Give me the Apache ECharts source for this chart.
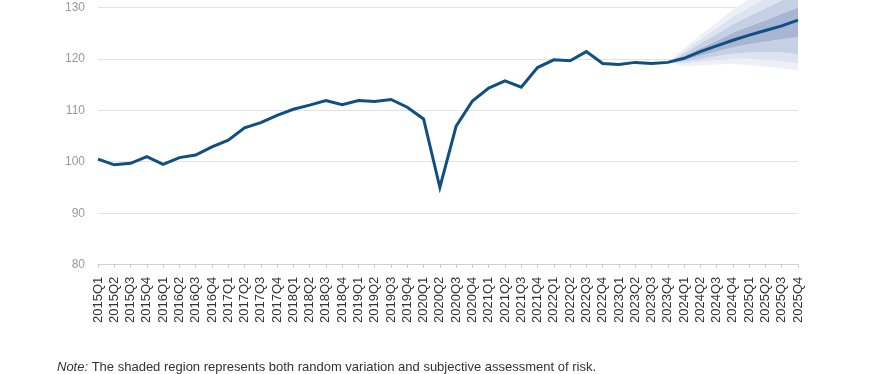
<!DOCTYPE html>
<html>
<head>
<meta charset="utf-8">
<script src="https://cdn.jsdelivr.net/npm/echarts@6/dist/echarts.min.js"></script>
<style>
html,body{margin:0;padding:0;background:#fff;}
#chart{width:872px;height:374px;}
</style>
</head>
<body>
<div id="chart"></div>
<script>
var categories = ["2015Q1","2015Q2","2015Q3","2015Q4","2016Q1","2016Q2","2016Q3","2016Q4",
"2017Q1","2017Q2","2017Q3","2017Q4","2018Q1","2018Q2","2018Q3","2018Q4",
"2019Q1","2019Q2","2019Q3","2019Q4","2020Q1","2020Q2","2020Q3","2020Q4",
"2021Q1","2021Q2","2021Q3","2021Q4","2022Q1","2022Q2","2022Q3","2022Q4",
"2023Q1","2023Q2","2023Q3","2023Q4","2024Q1","2024Q2","2024Q3","2024Q4",
"2025Q1","2025Q2","2025Q3","2025Q4"];

var centralPath = [100.5,99.4,99.7,101.0,99.5,100.8,101.3,102.9,
104.2,106.6,107.6,109.0,110.2,111.0,111.9,111.1,
111.9,111.7,112.1,110.6,108.3,95.0,106.9,111.8,
114.3,115.7,114.5,118.3,119.8,119.6,121.4,119.1,
118.9,119.3,119.1,119.3,120.1,121.4,122.5,123.6,
124.6,125.5,126.4,127.5];

// fan band edges from 2023Q4 to 2025Q4
var fanStart = 35;
var darkLow   = [119.3,119.7,120.6,121.4,122.2,122.8,123.3,123.8,124.2];
var darkHigh  = [119.3,120.5,122.1,123.5,125.1,126.3,127.5,128.8,130.0];
var midLow    = [119.3,119.4,119.9,120.5,121.0,121.2,121.3,121.2,120.9];
var midHigh   = [119.3,121.0,123.0,124.8,126.7,128.3,129.8,131.3,132.8];
var lightLow  = [119.3,119.1,119.4,119.7,120.0,120.0,119.8,119.5,119.1];
var lightHigh = [119.3,121.5,123.8,126.0,128.2,130.0,131.8,133.5,135.0];
var paleLow   = [119.3,118.6,118.7,118.9,119.0,118.8,118.5,118.1,117.8];
var paleHigh  = [119.3,122.0,124.6,127.0,129.5,131.7,133.7,135.5,137.0];

var yTicks = {min:80, max:130, interval:10};
var noteText = "The shaded region represents both random variation and subjective assessment of risk.";

function band(a, b) {
  var out = [];
  for (var i = 0; i < categories.length; i++) {
    var k = i - fanStart;
    if (k < 0) { out.push(null); continue; }
    out.push(b ? +(b[k] - a[k]).toFixed(3) : a[k]);
  }
  return out;
}

var colors = {dark:'#a8b6d3', mid:'#c6d0e4', light:'#dde3ef', pale:'#edf0f6'};

function fanSeries(name, data, color) {
  return {
    name: name, type: 'line', stack: 'fan', data: data, symbol: 'none',
    clip: false, silent: true, z: 1,
    lineStyle: {width: 0, opacity: 0},
    areaStyle: color ? {color: color, opacity: 1} : {opacity: 0}
  };
}

var series = [
  fanSeries('base', band(paleLow), null),
  fanSeries('pl', band(paleLow, lightLow), colors.pale),
  fanSeries('ll', band(lightLow, midLow), colors.light),
  fanSeries('ml', band(midLow, darkLow), colors.mid),
  fanSeries('dk', band(darkLow, darkHigh), colors.dark),
  fanSeries('mh', band(darkHigh, midHigh), colors.mid),
  fanSeries('lh', band(midHigh, lightHigh), colors.light),
  fanSeries('ph', band(lightHigh, paleHigh), colors.pale),
  {
    name: 'central', type: 'line', data: centralPath, symbol: 'none', z: 5,
    clip: false,
    lineStyle: {color: '#0f4f82', width: 3, join: 'miter'}
  }
];

var chart = echarts.init(document.getElementById('chart'), null, {renderer: 'canvas'});
chart.setOption({
  animation: false,
  backgroundColor: '#ffffff',
  textStyle: {fontFamily: '"Liberation Sans", Arial, Helvetica, sans-serif'},
  grid: {left: 98, right: 74, top: 7.3, bottom: 109.3, containLabel: false},
  xAxis: {
    type: 'category', data: categories, boundaryGap: false,
    axisLine: {show: true, lineStyle: {color: '#d0d0d0', width: 1}},
    axisTick: {show: true, interval: 0, length: 3, lineStyle: {color: '#c8c8c8'}},
    axisLabel: {interval: 0, rotate: 90, margin: 12, fontSize: 13, color: '#333333',
      fontFamily: '"Liberation Sans", Arial, sans-serif'},
    splitLine: {show: false}
  },
  yAxis: {
    type: 'value', min: yTicks.min, max: yTicks.max, interval: yTicks.interval,
    axisLine: {show: false}, axisTick: {show: false},
    axisLabel: {margin: 13, fontSize: 12, color: '#9a9a9a',
      fontFamily: '"Liberation Sans", Arial, sans-serif'},
    splitLine: {show: true, lineStyle: {color: '#e2e2e2', width: 1}}
  },
  graphic: [{
    type: 'text', left: 57, top: 361,
    style: {
      text: '{i|Note:} ' + noteText,
      rich: {i: {fontStyle: 'italic', fontSize: 13, fill: '#333'}},
      fontSize: 13, fill: '#333', fontFamily: '"Liberation Sans", Arial, sans-serif'
    }
  }],
  series: series
});
</script>
</body>
</html>
